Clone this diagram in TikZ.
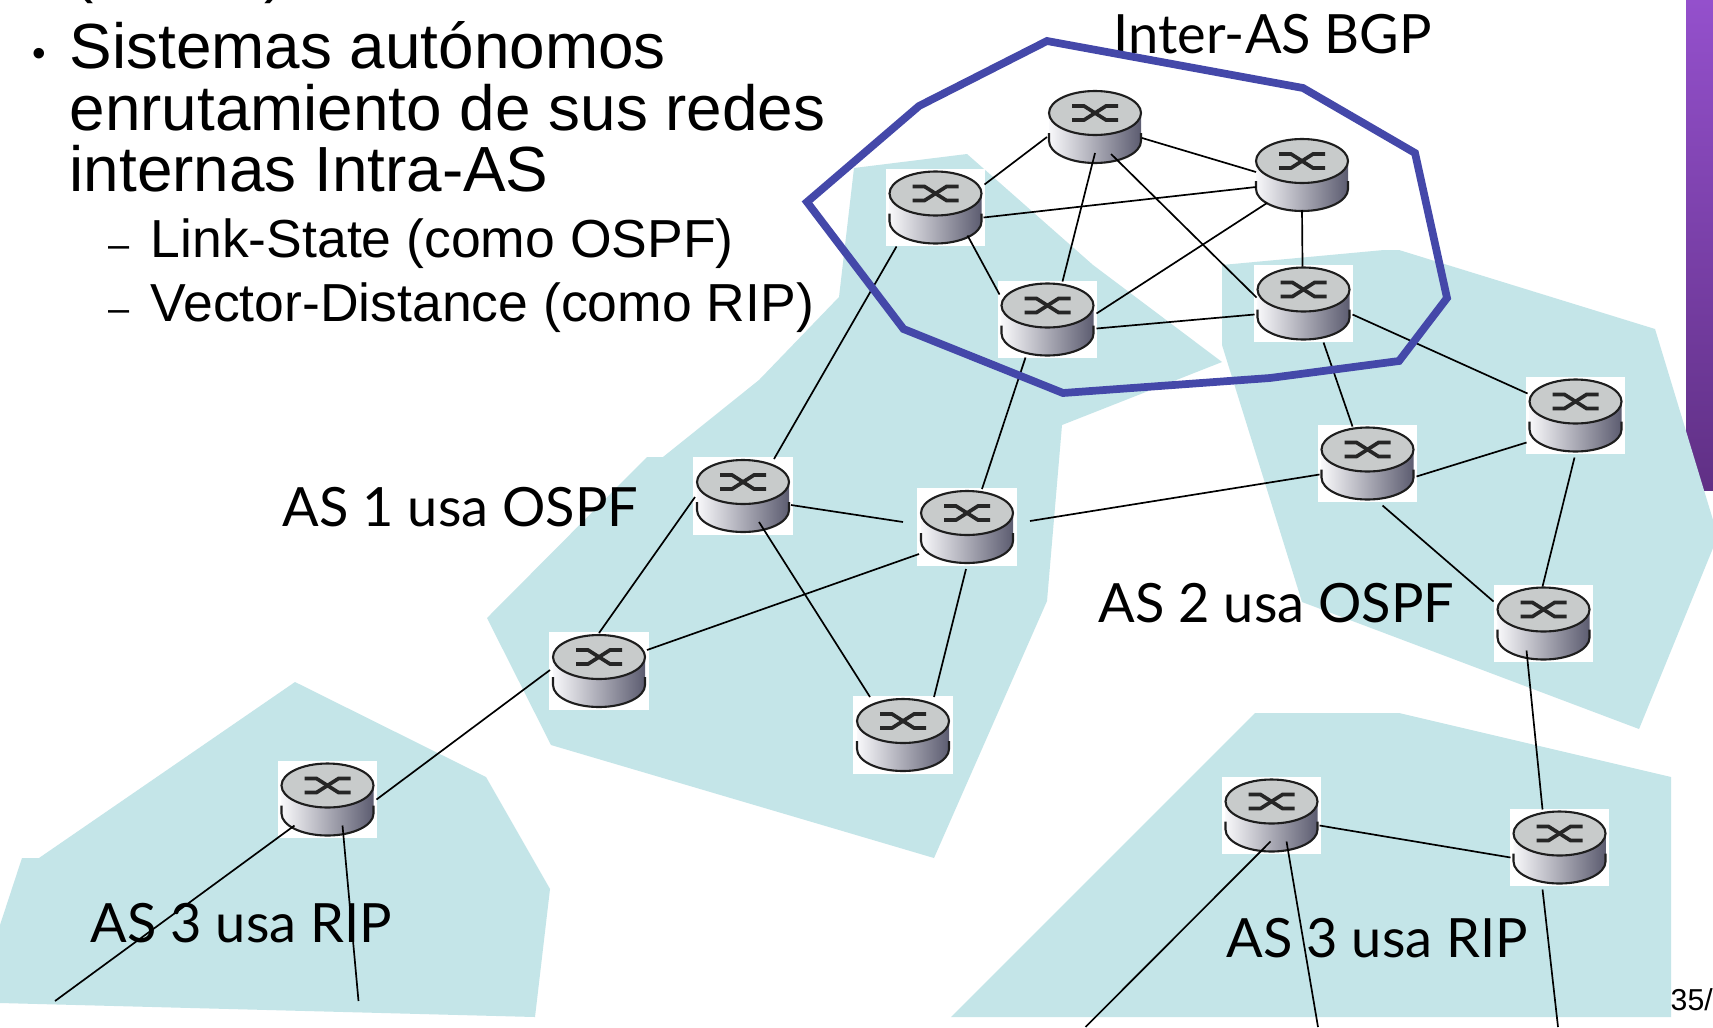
\documentclass[tikz,border=0pt]{standalone}
\usepackage{fontspec}
\setmainfont{Liberation Sans}
\newfontfamily\gillfont{Lato}
\usetikzlibrary{calc}
\definecolor{asfill}{HTML}{C4E5E8}
\definecolor{interblue}{HTML}{4448A9}
\definecolor{sidetop}{HTML}{9450CC}
\definecolor{sidebot}{HTML}{603085}
\definecolor{lidgrey}{HTML}{C8CBCB}
\definecolor{rimdark}{HTML}{1E1E1E}
\definecolor{bodyl}{HTML}{F8F8FA}
\definecolor{bodym}{HTML}{B4B4BC}
\definecolor{bodyr}{HTML}{5C5C70}
\def\routericon{
	\path[left color=bodyl, middle color=bodym, right color=bodyr] (-46,-14) -- (-46,14) arc (180:0:46 and 22) -- (46,-14) -- cycle;
	\draw[line width=0.6pt, rimdark] (-46,6) -- (-46,14) arc (180:0:46 and 22) -- (46,6);
	\draw[line width=0.6pt, rimdark, fill=lidgrey] (0,-14) ellipse (46 and 22);
	\draw[line width=1.05pt, black!85] (-23,-21) -- (-11,-21) -- (11,-7) -- (23,-7);
	\draw[line width=1.05pt, black!85] (-23,-7) -- (-11,-7) -- (11,-21) -- (23,-21);
}
\tikzset{
	router/.style={rectangle, fill=white, inner sep=0pt, minimum width=0.99cm, minimum height=0.77cm,
		path picture={\begin{scope}[shift={(path picture bounding box.center)}]\routericon\end{scope}}},
	link/.style={line width=0.48pt, black},
	aspatch/.style={fill=asfill, draw=none},
	bigtext/.style={anchor=base west, inner sep=0pt, font=\fontsize{18.15pt}{20pt}\selectfont},
	subtext/.style={anchor=base west, inner sep=0pt, font=\fontsize{15.22pt}{17pt}\selectfont},
	dashtext/.style={anchor=base west, inner sep=0pt, font=\fontsize{10.8pt}{12pt}\selectfont},
	astext/.style={anchor=base west, inner sep=0pt, font=\gillfont\fontsize{15.4pt}{17pt}\selectfont},
}
\begin{document}
\begin{tikzpicture}[x=0.01cm, y=-0.01cm]
	%%%%% START %%%%%
	
	\path[use as bounding box, fill=white] (0, 0) rectangle (1713, 1027);
	\shade[top color=sidetop, bottom color=sidebot] (1686, 0) rectangle (1713, 490);
	
	\path[aspatch] (854, 168) -- (967, 154) -- (1093, 265) -- (1222, 362) -- (1062, 425) -- (1047, 601) -- (934, 858) -- (551, 745) -- (487, 618) -- (647, 457) -- (663, 457) -- (759, 380) -- (839, 297) -- cycle;
	\path[aspatch] (1222, 265) -- (1384, 250) -- (1399, 250) -- (1655, 329) -- (1713, 520) -- (1713, 548) -- (1639, 729) -- (1302, 602) -- (1222, 345) -- cycle;
	\path[aspatch] (1255, 713) -- (1399, 713) -- (1671, 777) -- (1671, 1017) -- (951, 1017) -- cycle;
	\path[aspatch] (295, 682) -- (486, 777) -- (550, 889) -- (535, 1017) -- (0, 1003) -- (0, 925) -- (22, 858) -- (39, 858) -- cycle;
	
	\node[router] (rleft) at (935.5, 207.5) {};
	\node[router] (rtop) at (1095, 127) {};
	\node[router] (rtopr) at (1302, 175) {};
	\node[router] (rmid) at (1047.5, 319.5) {};
	\node[router] (rright) at (1303.5, 303.5) {};
	\node[router] (rfar) at (1575.5, 415.5) {};
	\node[router] (asbmid) at (1367.5, 463.5) {};
	\node[router] (asbbot) at (1543.5, 623.5) {};
	\node[router] (asacen) at (967, 527) {};
	\node[router] (asatop) at (743, 496) {};
	\node[router] (asaleft) at (599, 671) {};
	\node[router] (asabot) at (903, 735) {};
	\node[router] (ascone) at (327.5, 799.5) {};
	\node[router] (asctwo) at (1271.5, 815.5) {};
	\node[router] (ascthree) at (1559.5, 847.5) {};
	
	\coordinate (freea) at (55, 1001);
	\coordinate (freeb) at (358.5, 1001);
	\coordinate (freec) at (1085.5, 1027);
	\coordinate (freed) at (1318, 1027);
	\coordinate (freee) at (1558, 1027);
	
	\draw[link] ([shift={(49,-23)}]rleft.center) -- ([shift={(-48,10)}]rtop.center);
	\draw[link] ([shift={(48,10)}]rleft.center) -- ([shift={(-46,12)}]rtopr.center);
	\draw[link] ([shift={(32,28)}]rleft.center) -- ([shift={(-48,-25)}]rmid.center);
	\draw[link] ([shift={(-39,39)}]rleft.center) -- ([shift={(31,-37)}]asatop.center);
	\draw[link] ([shift={(0,26)}]rtop.center) -- ([shift={(15,-38)}]rmid.center);
	\draw[link] ([shift={(16,27)}]rtop.center) -- ([shift={(-47,-6)}]rright.center);
	\draw[link] ([shift={(47,11)}]rtop.center) -- ([shift={(-46,-3)}]rtopr.center);
	\draw[link] ([shift={(-35,28)}]rtopr.center) -- ([shift={(49,-6)}]rmid.center);
	\draw[link] ([shift={(0,35)}]rtopr.center) -- ([shift={(-1,-37)}]rright.center);
	\draw[link] ([shift={(49,9)}]rmid.center) -- ([shift={(-49,11)}]rright.center);
	\draw[link] ([shift={(-22,38)}]rmid.center) -- ([shift={(15,-38)}]asacen.center);
	\draw[link] ([shift={(49,11)}]rright.center) -- ([shift={(-48,-22)}]rfar.center);
	\draw[link] ([shift={(20,39)}]rright.center) -- ([shift={(-15,-37)}]asbmid.center);
	\draw[link] ([shift={(49,13)}]asbmid.center) -- ([shift={(-49,27)}]rfar.center);
	\draw[link] ([shift={(-48,11)}]asbmid.center) -- ([shift={(63,-6)}]asacen.center);
	\draw[link] ([shift={(15,42)}]asbmid.center) -- ([shift={(-50,-22)}]asbbot.center);
	\draw[link] ([shift={(-1,42)}]rfar.center) -- ([shift={(-1,-37)}]asbbot.center);
	\draw[link] ([shift={(-17,27)}]asbbot.center) -- ([shift={(-17,-38)}]ascthree.center);
	\draw[link] ([shift={(-64,-5)}]asacen.center) -- ([shift={(48,9)}]asatop.center);
	\draw[link] ([shift={(-48,27)}]asacen.center) -- ([shift={(48,-21)}]asaleft.center);
	\draw[link] ([shift={(-1,42)}]asacen.center) -- ([shift={(31,-38)}]asabot.center);
	\draw[link] ([shift={(16,26)}]asatop.center) -- ([shift={(-33,-38)}]asabot.center);
	\draw[link] ([shift={(-48,1)}]asatop.center) -- ([shift={(0,-38)}]asaleft.center);
	\draw[link] ([shift={(-49,-1)}]asaleft.center) -- ([shift={(49,0)}]ascone.center);
	\draw[link] ([shift={(-33,26)}]ascone.center) -- (freea);
	\draw[link] ([shift={(15,26)}]ascone.center) -- (freeb);
	\draw[link] ([shift={(48,10)}]asctwo.center) -- ([shift={(-49,10)}]ascthree.center);
	\draw[link] ([shift={(-1,26)}]asctwo.center) -- (freec);
	\draw[link] ([shift={(15,26)}]asctwo.center) -- (freed);
	\draw[link] ([shift={(-17,42)}]ascthree.center) -- (freee);
	
	\node[bigtext] (parl) at (72, -9.5) {(};
	\node[bigtext] (parr) at (264, -9.5) {)};
	\node[dashtext, font=\fontsize{11pt}{12pt}\selectfont] (bull) at (32, 66) {•};
	\node[bigtext] (sis) at (69, 68) {Sistemas autónomos};
	\node[bigtext] (enr) at (69, 130) {enrutamiento de sus redes};
	\node[bigtext] (inte) at (69, 191) {internas Intra-AS};
	\node[dashtext] (dasha) at (108, 257) {–};
	\node[subtext] (link) at (150, 257) {Link-State (como OSPF)};
	\node[dashtext] (dashb) at (108, 321) {–};
	\node[subtext] (vect) at (150, 321) {Vector-Distance (como RIP)};
	
	\node[astext] (lasa) at (282, 526) {AS 1 usa OSPF};
	\node[astext] (lasb) at (1098, 622) {AS 2 usa OSPF};
	\node[astext] (lasc) at (90, 942) {AS 3 usa RIP};
	\node[astext] (lasd) at (1226, 957) {AS 3 usa RIP};
	\node[astext] (lint) at (1113, 53) {Inter-AS BGP};
	\node[anchor=base west, inner sep=0pt, font=\fontsize{8.6pt}{10pt}\selectfont] (pagen) at (1670, 1010) {35/};
	
	\draw[line width=2.2pt, interblue, line join=miter] (1047, 41) -- (1303, 88) -- (1415, 153) -- (1447, 298) -- (1399, 361) -- (1270, 378) -- (1063, 393) -- (903.5, 329) -- (807, 202) -- (919, 106) -- cycle;
	
	%%%%% END %%%%%
\end{tikzpicture}
\end{document}
